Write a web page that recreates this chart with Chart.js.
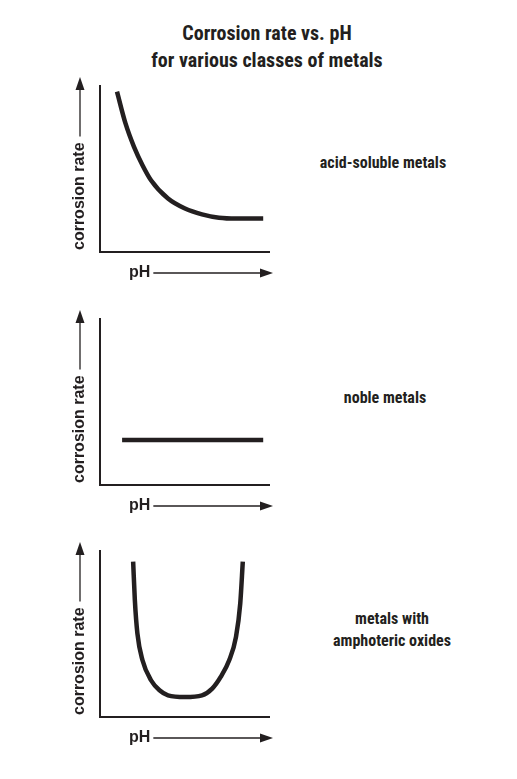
<!DOCTYPE html>
<html>
<head>
<meta charset="utf-8">
<script src="https://cdn.jsdelivr.net/npm/chart.js@4"></script>
<style>
body{margin:0;background:#fff;width:517px;height:779px;position:relative;overflow:hidden;
 font-family:'Liberation Sans Narrow','Roboto Condensed','Liberation Sans',Arial,sans-serif;color:#231f20}
.t{position:absolute;font-weight:bold;text-align:center;white-space:nowrap}
.box{position:absolute;left:60px;width:220px;height:220px}
</style>
</head>
<body>
<div class="t" style="left:0;width:534px;top:20px;font-size:20px;line-height:27px">Corrosion rate vs. pH<br>for various classes of metals</div>
<div class="t" style="left:283px;width:200px;top:153px;font-size:16px">acid-soluble metals</div>
<div class="t" style="left:285px;width:200px;top:388px;font-size:16px">noble metals</div>
<div class="t" style="left:292px;width:200px;top:608px;font-size:16px;line-height:22px">metals with<br>amphoteric oxides</div>
<div class="box" style="top:70px"><canvas id="c1"></canvas></div>
<div class="box" style="top:303px"><canvas id="c2"></canvas></div>
<div class="box" style="top:535px"><canvas id="c3"></canvas></div>
<script>
// values (pH position 0-10, relative corrosion rate 0-10)
const acidX = [1, 1.5, 2, 2.5, 3, 4, 5, 6, 7, 8, 9.6];
const acidY = [9.6, 7.7, 6.3, 5.2, 4.3, 3.2, 2.6, 2.25, 2.05, 2.0, 2.0];
const nobleX = [1.3, 9.6];
const nobleY = [2.7, 2.7];
const amphX = [1.95, 2.05, 2.2, 2.5, 3, 3.5, 4, 5, 6, 6.6, 7.1, 7.6, 8, 8.25, 8.4];
const amphY = [9.3, 7, 5, 3.4, 2.2, 1.6, 1.3, 1.2, 1.3, 1.7, 2.4, 3.4, 4.8, 6.8, 9.3];
const xLabel = 'pH';
const yLabel = 'corrosion rate';

const INK = '#231f20';
const FONT = "bold 16px 'Liberation Sans Narrow', 'Liberation Sans', Arial, sans-serif";

function arrowHead(ctx, x, y, dir) {
  ctx.beginPath();
  if (dir === 'up') { ctx.moveTo(x, y); ctx.lineTo(x - 4.5, y + 13); ctx.lineTo(x + 4.5, y + 13); }
  else { ctx.moveTo(x, y); ctx.lineTo(x - 13, y - 4.5); ctx.lineTo(x - 13, y + 4.5); }
  ctx.closePath();
  ctx.fill();
}

const axesPlugin = {
  id: 'axes',
  beforeDatasetsDraw(chart) {
    const { ctx, chartArea: a } = chart;
    ctx.save();
    ctx.strokeStyle = INK; ctx.fillStyle = INK; ctx.lineWidth = 2;
    ctx.beginPath();
    ctx.moveTo(a.left, a.top); ctx.lineTo(a.left, a.bottom); ctx.lineTo(a.right, a.bottom);
    ctx.stroke();
    ctx.font = FONT;
    ctx.lineWidth = 1.3;
    // x label + arrow
    const tx = a.left + 29, ty = a.bottom + 21;
    ctx.textBaseline = 'middle'; ctx.textAlign = 'left';
    ctx.fillText(xLabel, tx, ty);
    const tw = ctx.measureText(xLabel).width;
    ctx.beginPath(); ctx.moveTo(tx + tw + 3, ty); ctx.lineTo(a.right, ty); ctx.stroke();
    arrowHead(ctx, a.right + 3, ty, 'right');
    // y label + arrow
    const lx = a.left - 20, ly = a.bottom - 2;
    ctx.translate(lx, ly); ctx.rotate(-Math.PI / 2);
    ctx.fillText(yLabel, 0, 0);
    const yw = ctx.measureText(yLabel).width;
    ctx.rotate(Math.PI / 2); ctx.translate(-lx, -ly);
    const top = a.top - 8;
    ctx.beginPath(); ctx.moveTo(lx, ly - yw - 6); ctx.lineTo(lx, top + 10); ctx.stroke();
    arrowHead(ctx, lx, top, 'up');
    ctx.restore();
  }
};

function panel(id, xs, ys, smooth) {
  new Chart(document.getElementById(id), {
    type: 'line',
    data: { datasets: [{ data: xs.map((x, i) => ({ x, y: ys[i] })), borderColor: INK, borderWidth: 4.5,
      pointRadius: 0, cubicInterpolationMode: smooth ? 'monotone' : 'default', tension: 0 }] },
    options: {
      responsive: false, animation: false, events: [],
      layout: { padding: { left: 40, right: 10, top: 15, bottom: 38 } },
      plugins: { legend: { display: false }, tooltip: { enabled: false } },
      scales: {
        x: { type: 'linear', min: 0, max: 10, display: false },
        y: { min: 0, max: 10, display: false }
      }
    },
    plugins: [axesPlugin]
  });
}
for (const id of ['c1', 'c2', 'c3']) { const c = document.getElementById(id); c.width = 220; c.height = 220; }
panel('c1', acidX, acidY, true);
panel('c2', nobleX, nobleY, false);
panel('c3', amphX, amphY, true);
</script>
</body>
</html>
